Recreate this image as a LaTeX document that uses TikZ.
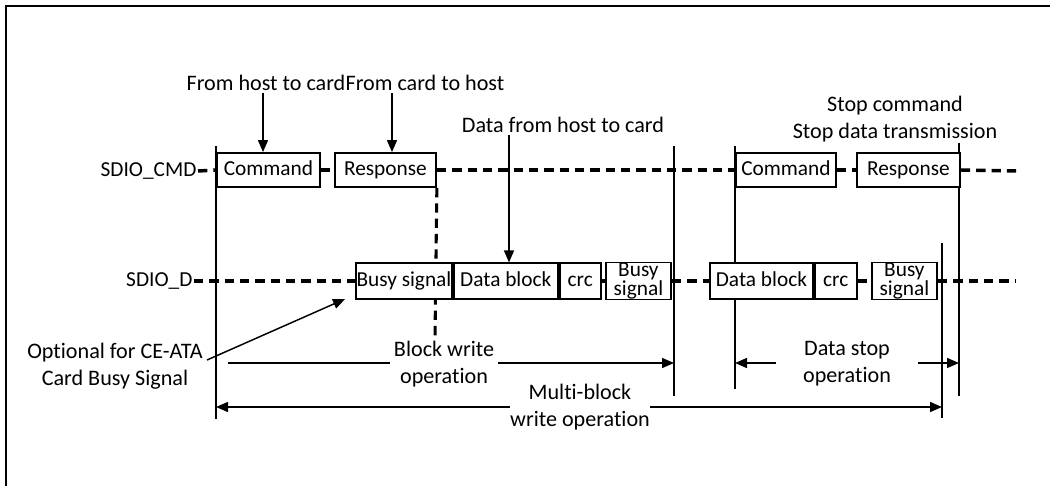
\documentclass[tikz,border=0pt]{standalone}
\usepackage{fontspec}
\setmainfont{Carlito}[Ligatures=NoCommon]
\usetikzlibrary{arrows.meta,backgrounds}
\tikzset{
  cbox/.style={draw=black, line width=1.4pt, fill=white, inner sep=0pt,
    minimum height=25.5pt, minimum width=#1*0.75pt, anchor=west,
    text height=1.0em, text depth=0.2em, font=\fontsize{16}{19}\selectfont},
  dbox/.style={cbox=#1, minimum height=26.5pt},
  bbox/.style={dbox=#1, align=center, text height=, text depth=,
    font=\fontsize{16}{13.2}\selectfont},
  lbl/.style={inner sep=1pt, anchor=east, font=\fontsize{16}{19}\selectfont},
  anno/.style={inner sep=1pt, align=center},
  dsh/.style={line width=2.6pt, dash pattern=on 7pt off 4.5pt},
  vline/.style={line width=1.1pt},
  ln/.style={line width=1.1pt},
  arr/.style={ln, -{Triangle[length=9pt,width=7.5pt]}},
  every picture/.append style={line join=miter}
}

\begin{document}
\begin{tikzpicture}[x=0.75pt, y=-0.75pt, font=\fontsize{16.6}{20.5}\selectfont]
  \useasboundingbox (0,0) rectangle (1050,486);
  \draw[line width=1.9pt] (6,486) -- (6,6) -- (1050,6);

  % signal rows
  \node[lbl] (cmdlbl) at (198,171) {SDIO\_CMD};
  \node[lbl] (dlbl) at (194,281) {SDIO\_D};

  \node[cbox=103] (cmdA) at (216,170) {Command};
  \node[cbox=101] (rspA) at (334,170) {Response};
  \node[cbox=100] (cmdB) at (735,170) {Command};
  \node[cbox=103] (rspB) at (856,170) {Response};

  \node[dbox=96] (busyA) at (355,281) {Busy signal};
  \node[dbox=104] (datA) at (busyA.east) {Data block};
  \node[dbox=41] (crcA) at (datA.east) {crc};
  \node[bbox=65] (busyB) at (605,281) {Busy\\signal};
  \node[dbox=103] (datB) at (709,281) {Data block};
  \node[dbox=42] (crcB) at (datB.east) {crc};
  \node[bbox=65] (busyC) at (871,281) {Busy\\signal};

  % time markers
  \coordinate (vAt) at (216,146); \coordinate (vAb) at (216,419);
  \coordinate (vBt) at (674,146); \coordinate (vBb) at (674,396);
  \coordinate (vCt) at (735,146); \coordinate (vCb) at (735,389);
  \coordinate (vDt) at (959,143); \coordinate (vDb) at (959,396);
  \coordinate (vEt) at (942,243); \coordinate (vEb) at (942,418);
  \coordinate (rspAd) at (435,337);
  \coordinate (cmdEnd) at (1021,171);
  \coordinate (dEnd) at (1015,281);

  \begin{scope}[on background layer]
    \draw[dsh] (cmdlbl.east) -- (cmdA.west);
    \draw[dsh] (cmdA.east) -- (rspA.west);
    \draw[dsh] (rspA.east) -- (cmdB.west);
    \draw[dsh] (cmdB.east) -- (rspB.west);
    \draw[dsh] (rspB.east) -- (cmdEnd);
    \draw[dsh] (dlbl.east) -- (busyA.west);
    \draw[dsh] (crcA.east) -- (busyB.west);
    \draw[dsh] (busyB.east) -- (datB.west);
    \draw[dsh] (crcB.east) -- (busyC.west);
    \draw[dsh] (busyC.east) -- (dEnd);
    \draw[dsh, line width=2.3pt] (rspA.south east) -- (rspAd);
    \foreach \vl in {vA,vB,vC,vD,vE}
      \draw[vline] (\vl t) -- (\vl b);
  \end{scope}

  % annotations
  \node[anno] (fh2c) at (266,83) {From host to card};
  \node[anno] (fc2h) at (425,83) {From card to host};
  \coordinate (fh2cA) at (263,93);
  \coordinate (fc2hA) at (392,93);
  \draw[arr] (fh2cA) -- (fh2cA |- cmdA.north);
  \draw[arr] (fc2hA) -- (fc2hA |- rspA.north);

  \node[anno] (dh2c) at (563,125) {Data from host to card};
  \coordinate (dh2cA) at (509,135);
  \draw[arr] (dh2cA) -- (dh2cA |- datA.north);

  \node[anno] (stop) at (895,119) {Stop command\\Stop data transmission};

  \node[anno] (opt) at (115,366) {Optional for CE-ATA\\Card Busy Signal};
  \coordinate (optA) at (207,360);
  \coordinate (optB) at (345,299);
  \draw[arr] (optA) -- (optB);

  % operation spans
  \node[anno, inner xsep=2.5pt] (bwo) at (444,364) {Block write\\operation};
  \coordinate (bwL) at (228,363);
  \draw[ln] (bwL) -- (bwL -| bwo.west);
  \draw[arr] (bwL -| bwo.east) -- (bwL -| vBt);

  \node[anno, inner xsep=20pt] (dso) at (847,364) {Data stop\\operation};
  \draw[arr] (dso.west |- bwL) -- (vCt |- bwL);
  \draw[arr] (dso.east |- bwL) -- (vDt |- bwL);

  \node[anno, inner xsep=0pt] (mbw) at (580,407) {Multi-block\\write operation};
  \draw[arr] (mbw.west) -- (vAt |- mbw.west);
  \draw[arr] (mbw.east) -- (vEt |- mbw.east);
\end{tikzpicture}
\end{document}
